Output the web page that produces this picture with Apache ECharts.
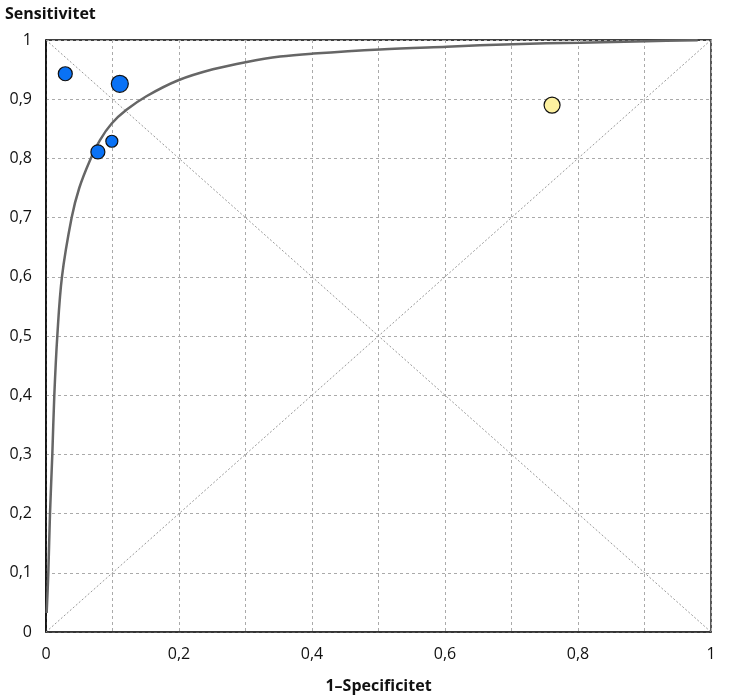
<!DOCTYPE html>
<html>
<head>
<meta charset="utf-8">
<script src="https://cdn.jsdelivr.net/npm/echarts@6/dist/echarts.min.js"></script>
<style>html,body{margin:0;padding:0;background:#fff}#c{width:750px;height:699px}</style>
</head>
<body>
<div id="c"></div>
<script>
// Study points (1-specificity, sensitivity, symbol size)
const bluePoints = [
  [0.029, 0.943, 14],
  [0.111, 0.926, 17],
  [0.078, 0.811, 14],
  [0.099, 0.829, 12]
];
const yellowPoints = [
  [0.761, 0.890, 16]
];
// SROC curve
const srocCurve = [
  [0.001, 0.032], [0.0035, 0.10], [0.006, 0.20], [0.0095, 0.30], [0.0125, 0.40],
  [0.017, 0.50], [0.024, 0.60], [0.0386, 0.70], [0.050, 0.75], [0.0662, 0.797],
  [0.0812, 0.831], [0.0988, 0.859], [0.121, 0.882], [0.151, 0.905], [0.199, 0.932],
  [0.251, 0.9505], [0.302, 0.963], [0.352, 0.972], [0.402, 0.977], [0.502, 0.984],
  [0.6025, 0.9887], [0.702, 0.993], [0.803, 0.9955], [0.903, 0.998], [0.98, 0.9995]
];
const diagonal = [[0, 0], [1, 1]];
const antiDiagonal = [[0, 1], [1, 0]];
const xTickLabels = ['0', '', '0,2', '', '0,4', '', '0,6', '', '0,8', '', '1'];
const yTickLabels = ['0', '0,1', '0,2', '0,3', '0,4', '0,5', '0,6', '0,7', '0,8', '0,9', '1'];
const xTitle = '1–Specificitet';
const yTitle = 'Sensitivitet';

const font = 'Open Sans';
const chart = echarts.init(document.getElementById('c'));
const splitStyle = { show: true, lineStyle: { color: '#aaa', type: [3, 3], width: 1 } };
chart.setOption({
  animation: false,
  grid: { left: 46, right: 39, top: 40, bottom: 67, show: true, borderColor: '#000', borderWidth: 1.3 },
  graphic: [{
    type: 'text', left: 5, top: 6,
    style: { text: yTitle, font: 'bold 16px "Open Sans"', fill: '#111' }
  }],
  xAxis: {
    type: 'value', min: 0, max: 1, interval: 0.1,
    name: xTitle, nameLocation: 'middle', nameGap: 46,
    nameTextStyle: { fontFamily: font, fontWeight: 'bold', fontSize: 16, color: '#111' },
    axisLine: { lineStyle: { color: '#333', width: 1.5 } },
    axisTick: { show: false },
    splitLine: splitStyle,
    axisLabel: {
      margin: 14, fontFamily: font, fontSize: 16, color: '#111',
      formatter: v => xTickLabels[Math.round(v * 10)]
    }
  },
  yAxis: {
    type: 'value', min: 0, max: 1, interval: 0.1,
    axisLine: { lineStyle: { color: '#000', width: 1.5 } },
    axisTick: { show: false },
    splitLine: splitStyle,
    axisLabel: {
      margin: 14, fontFamily: font, fontSize: 16, color: '#111',
      formatter: v => yTickLabels[Math.round(v * 10)]
    }
  },
  series: [
    { type: 'line', data: diagonal, symbol: 'none', silent: true,
      lineStyle: { color: '#999', width: 1, type: [2, 2] }, z: 1 },
    { type: 'line', data: antiDiagonal, symbol: 'none', silent: true,
      lineStyle: { color: '#999', width: 1, type: [2, 2] }, z: 1 },
    { type: 'line', data: srocCurve, symbol: 'none', smooth: 0.35,
      lineStyle: { color: '#666', width: 2.5 }, z: 2 },
    { type: 'scatter', data: bluePoints, symbolSize: d => d[2],
      itemStyle: { color: '#0a72f5', opacity: 1, borderColor: '#111', borderWidth: 1.2 }, z: 3 },
    { type: 'scatter', data: yellowPoints, symbolSize: d => d[2],
      itemStyle: { color: '#fdf1a0', opacity: 1, borderColor: '#111', borderWidth: 1.2 }, z: 3 }
  ]
});
</script>
</body>
</html>
